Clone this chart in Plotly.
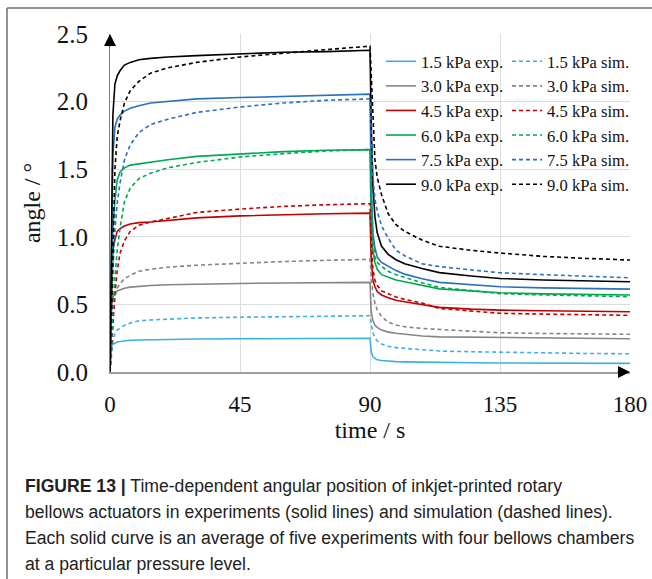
import plotly.graph_objects as go

# ---------------- data ----------------
time_s = [0, 0.5, 1, 1.7, 2.5, 3.5, 5, 7, 10, 14, 20, 30, 45, 60, 75, 90,
          90.4, 91, 91.7, 92.5, 94, 96.3, 99, 102, 108, 114, 125, 135, 150, 165, 180]

exp_1_5 = [0, 0.19, 0.205, 0.215, 0.222, 0.226, 0.23, 0.235, 0.237, 0.239, 0.241, 0.244, 0.246, 0.248, 0.249, 0.25,
           0.15, 0.115, 0.10, 0.09, 0.085, 0.08, 0.077, 0.075, 0.072, 0.069, 0.068, 0.067, 0.066, 0.065, 0.064]
sim_1_5 = [0, 0.13, 0.23, 0.28, 0.31, 0.325, 0.345, 0.362, 0.378, 0.385, 0.39, 0.40, 0.405, 0.41, 0.413, 0.416,
           0.36, 0.29, 0.256, 0.23, 0.207, 0.19, 0.18, 0.175, 0.165, 0.155, 0.15, 0.146, 0.14, 0.137, 0.135]
exp_3_0 = [0, 0.5, 0.55, 0.58, 0.6, 0.61, 0.62, 0.628, 0.635, 0.64, 0.645, 0.65, 0.655, 0.658, 0.661, 0.663,
           0.45, 0.38, 0.347, 0.33, 0.31, 0.295, 0.286, 0.278, 0.266, 0.26, 0.258, 0.256, 0.252, 0.249, 0.246]
sim_3_0 = [0, 0.25, 0.4, 0.56, 0.62, 0.655, 0.69, 0.715, 0.745, 0.76, 0.775, 0.79, 0.805, 0.817, 0.826, 0.833,
           0.72, 0.58, 0.51, 0.46, 0.41, 0.37, 0.347, 0.335, 0.322, 0.315, 0.30, 0.29, 0.285, 0.282, 0.279]
exp_4_5 = [0, 0.6, 0.9, 0.98, 1.04, 1.06, 1.08, 1.095, 1.105, 1.11, 1.12, 1.14, 1.155, 1.165, 1.17, 1.175,
           0.85, 0.68, 0.63, 0.595, 0.57, 0.55, 0.53, 0.52, 0.50, 0.478, 0.465, 0.458, 0.453, 0.449, 0.446]
sim_4_5 = [0, 0.2, 0.38, 0.58, 0.75, 0.88, 0.97, 1.04, 1.085, 1.11, 1.135, 1.18, 1.205, 1.225, 1.237, 1.245,
           1.0, 0.76, 0.68, 0.64, 0.6, 0.58, 0.555, 0.537, 0.51, 0.47, 0.45, 0.434, 0.428, 0.423, 0.419]
exp_6_0 = [0, 0.7, 1.05, 1.27, 1.42, 1.48, 1.51, 1.53, 1.54, 1.555, 1.57, 1.595, 1.615, 1.63, 1.64, 1.645,
           1.1, 0.9, 0.81, 0.76, 0.72, 0.70, 0.68, 0.667, 0.64, 0.615, 0.60, 0.586, 0.578, 0.573, 0.569]
sim_6_0 = [0, 0.25, 0.45, 0.7, 0.9, 1.07, 1.26, 1.36, 1.43, 1.47, 1.51, 1.55, 1.59, 1.615, 1.635, 1.645,
           1.35, 1.0, 0.85, 0.81, 0.78, 0.745, 0.72, 0.70, 0.66, 0.626, 0.60, 0.58, 0.57, 0.562, 0.557]
exp_7_5 = [0, 1.0, 1.6, 1.81, 1.87, 1.90, 1.93, 1.95, 1.97, 1.99, 2.0, 2.02, 2.03, 2.04, 2.05, 2.055,
           1.4, 1.03, 0.92, 0.85, 0.81, 0.78, 0.75, 0.724, 0.69, 0.663, 0.645, 0.63, 0.622, 0.617, 0.613]
sim_7_5 = [0, 0.4, 0.75, 1.05, 1.25, 1.40, 1.57, 1.68, 1.77, 1.83, 1.87, 1.92, 1.96, 1.99, 2.01, 2.02,
           1.8, 1.45, 1.28, 1.19, 1.08, 0.99, 0.9, 0.86, 0.80, 0.78, 0.755, 0.734, 0.72, 0.707, 0.697]
exp_9_0 = [0, 1.2, 1.9, 2.13, 2.19, 2.23, 2.27, 2.29, 2.31, 2.32, 2.33, 2.34, 2.355, 2.365, 2.37, 2.38,
           1.85, 1.38, 1.15, 1.03, 0.93, 0.87, 0.83, 0.80, 0.766, 0.735, 0.71, 0.692, 0.68, 0.673, 0.667]
sim_9_0 = [0, 0.5, 0.95, 1.5, 1.74, 1.86, 1.99, 2.08, 2.15, 2.21, 2.25, 2.29, 2.33, 2.36, 2.385, 2.41,
           2.2, 1.8, 1.57, 1.44, 1.31, 1.17, 1.09, 1.04, 0.976, 0.93, 0.90, 0.88, 0.855, 0.84, 0.828]

pressure_labels = ["1.5", "3.0", "4.5", "6.0", "7.5", "9.0"]
exp_series = [exp_1_5, exp_3_0, exp_4_5, exp_6_0, exp_7_5, exp_9_0]
sim_series = [sim_1_5, sim_3_0, sim_4_5, sim_6_0, sim_7_5, sim_9_0]
colors = ["#3cb0e4", "#858585", "#c00000", "#00a84f", "#2a70bd", "#000000"]

x_ticks = [0, 45, 90, 135, 180]
y_ticks = [0.0, 0.5, 1.0, 1.5, 2.0, 2.5]

caption_lines = [
    "<b>FIGURE 13 |</b> Time-dependent angular position of inkjet-printed rotary",
    "bellows actuators in experiments (solid lines) and simulation (dashed lines).",
    "Each solid curve is an average of five experiments with four bellows chambers",
    "at a particular pressure level.",
]

# ---------------- figure ----------------
W, H = 652, 579
L, R, T, B = 110, 22, 34, 207
PW, PH = W - L - R, H - T - B


def px(x):
    return (x - L) / PW


def py(y):
    return (H - B - y) / PH


serif = "Liberation Serif, Times New Roman, serif"
fig = go.Figure()

for lab, ys, c in zip(pressure_labels, exp_series, colors):
    fig.add_trace(go.Scatter(x=time_s, y=ys, mode="lines", name=f"{lab} kPa exp.",
                             line=dict(color=c, width=1.6), legend="legend", cliponaxis=False))
for lab, ys, c in zip(pressure_labels, sim_series, colors):
    fig.add_trace(go.Scatter(x=time_s, y=ys, mode="lines", name=f"{lab} kPa sim.",
                             line=dict(color=c, width=1.6, dash="4px,3px"), legend="legend2",
                             cliponaxis=False))

leg_common = dict(bgcolor="rgba(0,0,0,0)", font=dict(family=serif, size=16.6, color="#111"),
                  yanchor="top", xanchor="left", tracegroupgap=0, itemwidth=30)

fig.update_layout(
    width=W, height=H,
    margin=dict(l=L, r=R, t=T, b=B, autoexpand=False),
    paper_bgcolor="white", plot_bgcolor="white",
    showlegend=True,
    legend=dict(x=px(381), y=py(44), **leg_common),
    legend2=dict(x=px(507), y=py(44), **leg_common),
    xaxis=dict(range=[0, 180], tickvals=x_ticks, ticktext=[str(v) for v in x_ticks],
               automargin=False,
               showgrid=True, gridcolor="#dcdcdc", gridwidth=1, zeroline=False,
               showline=True, linecolor="#a0a0a0", linewidth=1.5,
               ticks="outside", ticklen=11, tickcolor="rgba(0,0,0,0)",
               tickfont=dict(family=serif, size=23, color="#111"),
               title=dict(text="time / s", font=dict(family=serif, size=24, color="#111"), standoff=2)),
    yaxis=dict(range=[0, 2.5], tickvals=y_ticks, ticktext=[f"{v:.1f}" for v in y_ticks],
               automargin=False,
               showgrid=True, gridcolor="#dcdcdc", gridwidth=1, zeroline=False,
               showline=True, linecolor="#808080", linewidth=1.2,
               ticks="outside", ticklen=16, tickcolor="rgba(0,0,0,0)",
               tickfont=dict(family=serif, size=25, color="#111"),
               title=dict(text="angle / °", font=dict(family=serif, size=24, color="#111"), standoff=9)),
)

# axis arrowheads
fig.add_annotation(x=0, y=2.5, xref="x", yref="y", ax=0, ay=14, axref="pixel", ayref="pixel",
                   text="", showarrow=True, arrowhead=2, arrowsize=2.0, arrowwidth=1.2,
                   arrowcolor="#000")
fig.add_annotation(x=180, y=0, xref="x", yref="y", ax=-14, ay=0, axref="pixel", ayref="pixel",
                   text="", showarrow=True, arrowhead=2, arrowsize=2.0, arrowwidth=1.2,
                   arrowcolor="#000")

# frame of the figure panel
fig.add_shape(type="line", xref="paper", yref="paper", x0=px(7), x1=px(652), y0=py(8), y1=py(8),
              line=dict(color="#6e6e6e", width=1.5))
fig.add_shape(type="line", xref="paper", yref="paper", x0=px(7), x1=px(7), y0=py(8), y1=py(579),
              line=dict(color="#6e6e6e", width=1.5))

for i, line_text in enumerate(caption_lines):
    fig.add_annotation(x=px(23), y=py(486 + 26 * i), xref="paper", yref="paper",
                       xanchor="left", yanchor="middle", align="left", showarrow=False,
                       text=line_text,
                       font=dict(family="Liberation Sans, Arial, sans-serif", size=17.6, color="#222"))

fig.write_html("out.html", config={"displayModeBar": False},
               post_script="document.body.style.margin='0px';")
